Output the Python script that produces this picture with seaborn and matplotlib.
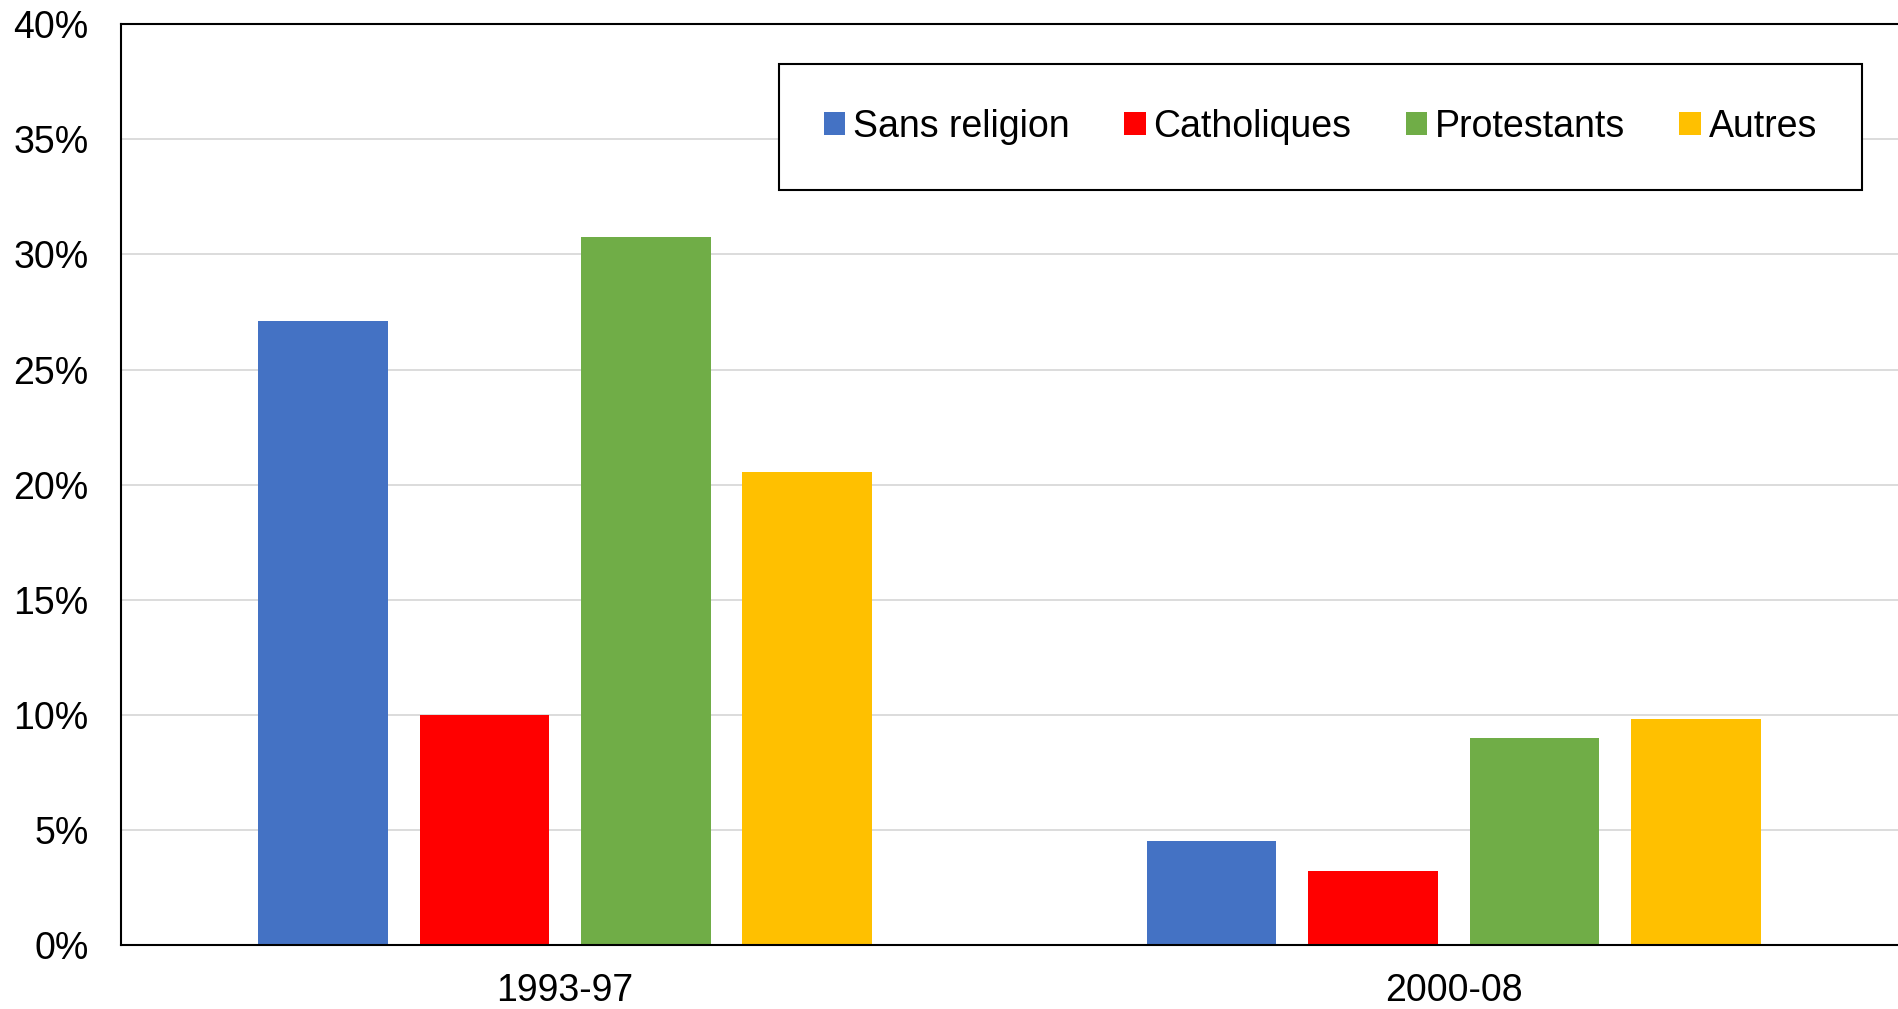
import matplotlib
matplotlib.use("Agg")
import matplotlib.pyplot as plt
from matplotlib.ticker import FuncFormatter
import seaborn as sns
import pandas as pd

periods = ["1993-97", "2000-08"]
groups = ["Sans religion", "Catholiques", "Protestants", "Autres"]
sans_religion = [27.1, 4.53]
catholiques = [10.0, 3.24]
protestants = [30.75, 9.02]
autres = [20.55, 9.84]
colors = ["#4472C4", "#FF0000", "#70AD47", "#FFC000"]
y_ticks = [0, 5, 10, 15, 20, 25, 30, 35, 40]

rows = []
for g, vals in zip(groups, [sans_religion, catholiques, protestants, autres]):
    for p, v in zip(periods, vals):
        rows.append({"period": p, "group": g, "value": v})
df = pd.DataFrame(rows)

sns.set_theme(style="white")
plt.rcParams["font.family"] = ["Liberation Sans", "DejaVu Sans"]

fig = plt.figure(figsize=(18.98, 10.09), dpi=100)
ax = fig.add_axes([120.7 / 1898, 63.6 / 1009, 1 - 120.7 / 1898, (945.4 - 24.2) / 1009])

sns.barplot(data=df, x="period", y="value", hue="group", order=periods,
            hue_order=groups, palette=colors, width=0.7265, gap=0.197,
            saturation=1, linewidth=0, ax=ax, legend=True)

ax.set_xlim(-0.5, 1.5)
ax.set_ylim(0, 40)
ax.set_yticks(y_ticks)
ax.yaxis.set_major_formatter(FuncFormatter(lambda v, p: f"{v:.0f}%"))
ax.grid(axis="y", color="#d9d9d9", linewidth=1.3)
ax.set_axisbelow(True)
ax.set_xlabel("")
ax.set_ylabel("")
ax.tick_params(axis="y", length=0, pad=23, labelsize=27, colors="black")
ax.tick_params(axis="x", length=0, pad=20, labelsize=27, colors="black")
for s in ["left", "bottom", "top"]:
    ax.spines[s].set_visible(True)
    ax.spines[s].set_color("black")
    ax.spines[s].set_linewidth(1.5)
ax.spines["right"].set_visible(False)

handles, labels = ax.get_legend_handles_labels()
ax.legend(handles, labels, ncol=4, loc="upper right",
          bbox_to_anchor=(1862 / 1898, 1 - 64 / 1009), bbox_transform=fig.transFigure,
          fontsize=27, frameon=True, fancybox=False, edgecolor="black",
          framealpha=1, borderpad=1.2, handlelength=0.58, handleheight=0.58,
          handletextpad=0.2, columnspacing=1.45, borderaxespad=0,
          labelcolor="black")
ax.get_legend().get_frame().set_linewidth(1.5)

fig.savefig("out.png", dpi=100)
